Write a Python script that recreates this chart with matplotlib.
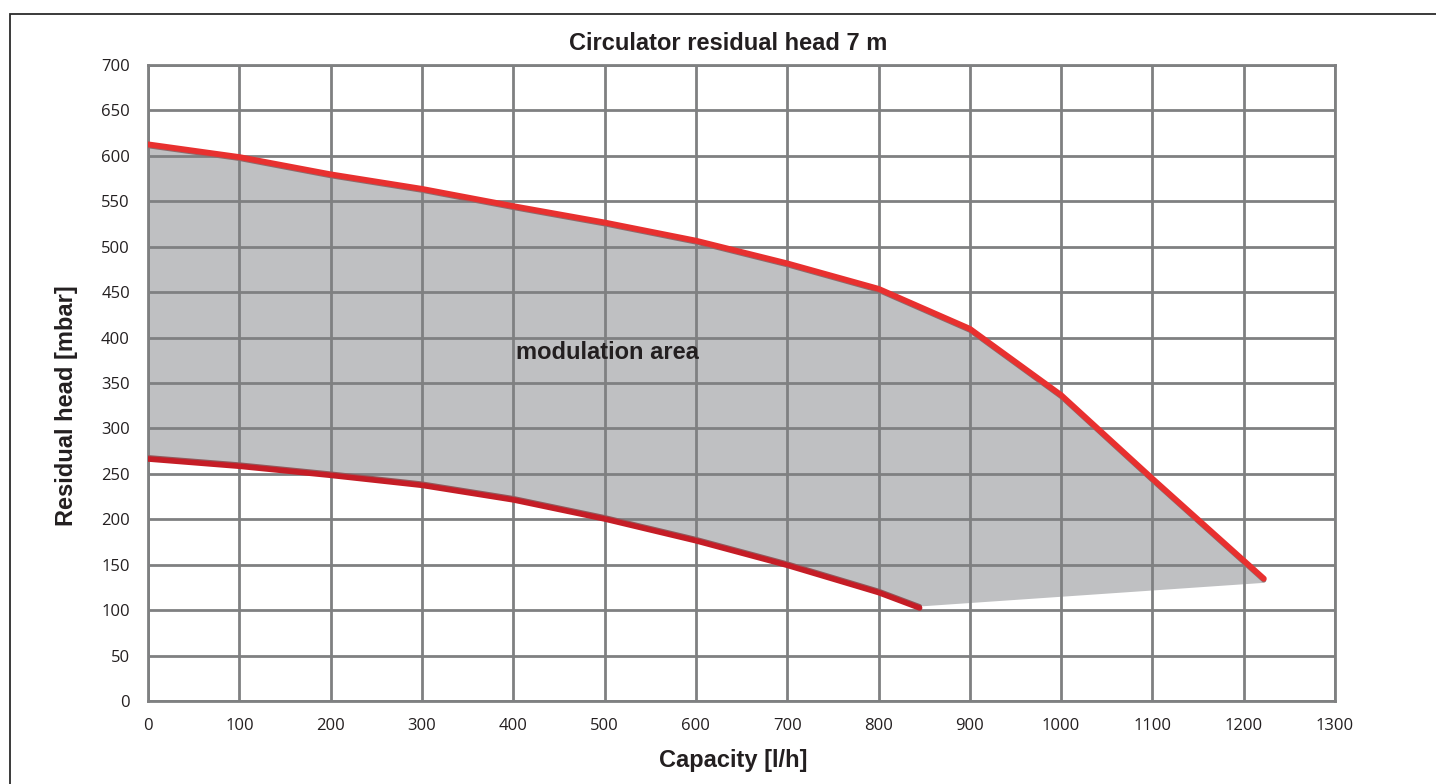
import matplotlib.pyplot as plt
import matplotlib.transforms as mtransforms
from matplotlib.patches import Rectangle

# Courbe haute (hauteur résiduelle max)
upper_x = [0, 100, 200, 300, 400, 500, 600, 700, 800, 900, 1000, 1100, 1222]
upper_y = [611, 597, 578, 562, 543, 525, 505, 480, 452, 408, 335, 243, 133]

# Courbe basse (hauteur résiduelle min)
lower_x = [0, 100, 200, 300, 400, 500, 600, 700, 800, 845]
lower_y = [268, 260, 250, 239, 223, 202, 178, 151, 121, 104]

x_ticks = list(range(0, 1301, 100))
y_ticks = list(range(0, 701, 50))

title = "Circulator residual head 7 m"
area_label = "modulation area"
x_label = "Capacity [l/h]"
y_label = "Residual head [mbar]"

plt.rcParams['font.family'] = ['Liberation Sans', 'DejaVu Sans']

fig = plt.figure(figsize=(14.36, 7.84), dpi=100)
ax = fig.add_axes([0.1031, 0.1059, 0.8266, 0.8112])

# Cadre autour de la figure
fig.patches.append(Rectangle((10 / 1436, -0.05), 1.1, 1 - 14 / 784 + 0.05,
                             transform=fig.transFigure, fill=False,
                             edgecolor='#2b2b2b', linewidth=1.3, clip_on=True))

# Zone de modulation grise
poly_x = upper_x + lower_x[::-1]
poly_y = upper_y[:-1] + [130] + lower_y[::-1]
ax.fill(poly_x, poly_y, color='#bfc0c2', zorder=1, linewidth=0)

# Lignes d'ombre puis lignes rouges
ax.plot(upper_x, upper_y, color='#8f6b6c', lw=3.5, zorder=3, solid_capstyle='round')
ax.plot(lower_x, lower_y, color='#93585b', lw=3.5, zorder=3, solid_capstyle='round')
up = mtransforms.offset_copy(ax.transData, fig=fig, x=0, y=1.5, units='dots')
down = mtransforms.offset_copy(ax.transData, fig=fig, x=0, y=-1.5, units='dots')
ax.plot(upper_x, upper_y, color='#e8302f', lw=4.2, zorder=4,
        solid_capstyle='round', transform=up)
ax.plot(lower_x, lower_y, color='#c51d26', lw=4.0, zorder=4,
        solid_capstyle='round', transform=down)

ax.text(503, 384, area_label, ha='center', va='center', fontsize=17,
        fontweight='bold', color='#231f20', zorder=5)

ax.set_xlim(0, 1300)
ax.set_ylim(0, 700)
ax.set_xticks(x_ticks)
ax.set_yticks(y_ticks)
ax.tick_params(length=0, labelsize=12, pad=12, colors='#231f20')
ax.tick_params(axis='y', pad=13)
for lbl in ax.get_xticklabels() + ax.get_yticklabels():
    lbl.set_family(['Open Sans', 'DejaVu Sans'])
ax.grid(True, color='#7f8081', linewidth=2, zorder=2)
ax.set_axisbelow(False)
for s in ax.spines.values():
    s.set_color('#7f8081')
    s.set_linewidth(2)
    s.set_zorder(2)

fig.text(728 / 1436, 1 - 44 / 784, title, ha='center', va='center',
         fontsize=17, fontweight='bold', color='#231f20')
fig.text(733 / 1436, 1 - 761 / 784, x_label, ha='center', va='center',
         fontsize=17, fontweight='bold', color='#231f20')
fig.text(66 / 1436, 1 - 406 / 784, y_label, ha='center', va='center',
         rotation=90, fontsize=17, fontweight='bold', color='#231f20')

fig.savefig('out.png', dpi=100)
